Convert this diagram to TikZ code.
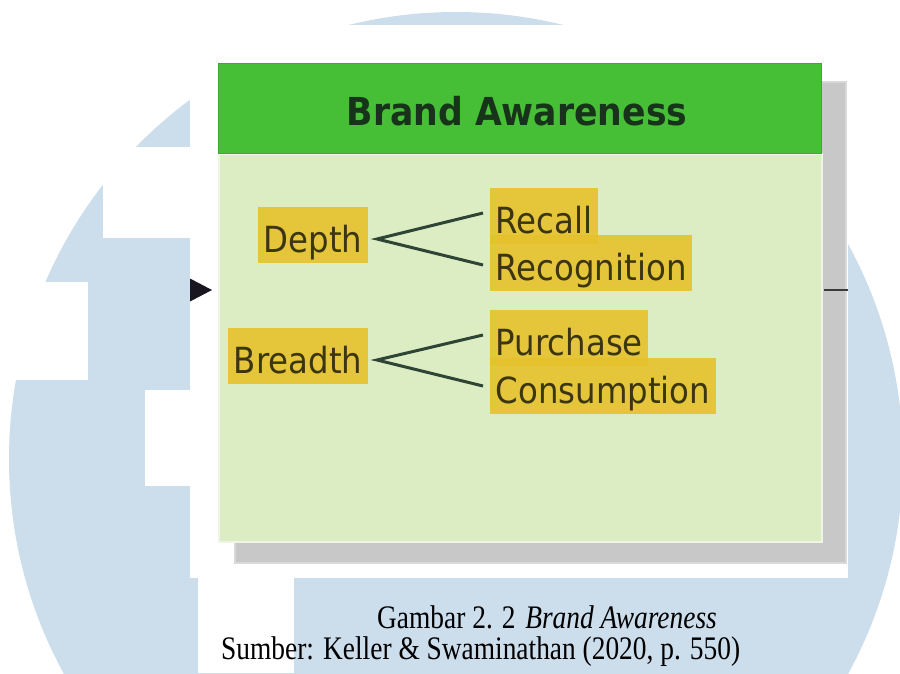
\documentclass[tikz,border=0pt]{standalone}
\usepackage{fontspec}
\usepackage{graphicx}
\setmainfont{Liberation Serif}
\newfontfamily\diafont[FakeStretch=0.9]{DejaVu Sans}

\definecolor{wmblue}{HTML}{CCDDEC}
\definecolor{shadowgray}{HTML}{C8C8C8}
\definecolor{bodygreen}{HTML}{DCEDC4}
\definecolor{bodyrim}{HTML}{EEF5E4}
\definecolor{headgreen}{HTML}{46BE35}
\definecolor{headedge}{HTML}{3DAB2F}
\definecolor{titleink}{HTML}{17331A}
\definecolor{hlyellow}{HTML}{E6C12C}
\definecolor{lblink}{HTML}{3B3610}
\definecolor{connink}{HTML}{2E4535}
\definecolor{arrowink}{HTML}{1A1620}
\definecolor{stubink}{HTML}{3A3A3A}

\begin{document}
\begin{tikzpicture}[
  x=1pt, y=-1pt,
  lbl/.style={fill=hlyellow, fill opacity=0.9, text opacity=1, text=lblink,
    font=\diafont\fontsize{36}{40}\selectfont,
    inner xsep=5.5pt, inner ysep=5pt, text height=40pt, text depth=6pt},
  conn/.style={draw=connink, line width=3pt},
  headtitle/.style={text=titleink, inner sep=0pt,
    font=\diafont\bfseries\fontsize{38.5}{44}\selectfont},
  captxt/.style={anchor=base west, inner sep=0pt, text=black}
]
\useasboundingbox (0,0) rectangle (900,673);
\clip (0,0) rectangle (900,673);
\fill[white] (0,0) rectangle (900,673);

% watermark disc with its white cut-outs
\fill[wmblue] (456,459) circle[radius=447pt];
\fill[white] (103,147) rectangle (300,238);
\fill[white] (0,282) rectangle (88,380);
\fill[white] (145,390) rectangle (300,486);
\fill[white] (198,500) rectangle (294,673);

% white sheet behind the diagram
\fill[white] (190,25) rectangle (848,578);

% drop shadow of the card
\fill[shadowgray, draw=shadowgray!70!white, line width=2pt] (235,82) rectangle (846,563);

% card body and header
\node[draw=bodyrim, line width=2pt, fill=bodygreen, inner sep=0pt,
      minimum width=603pt, minimum height=388pt, anchor=north west] (body) at (218,153) {};
\node[draw=headedge, line width=1pt, fill=headgreen, inner sep=0pt,
      minimum width=603pt, minimum height=90pt, anchor=north west] (head) at (218,63) {};
\node[headtitle, anchor=base] (ttl) at (517,125) {Brand Awareness};

% labels
\node[lbl, anchor=east] (depth) at (368,235) {Depth};
\node[lbl, anchor=east] (breadth) at (368,356) {Breadth};
\node[lbl, anchor=west] (recog) at (490,263) {Recognition};
\node[lbl, anchor=west] (recall) at (490,216) {Recall};
\node[lbl, anchor=west] (cons) at (490,386) {Consumption};
\node[lbl, anchor=west] (purch) at (490,338) {Purchase};

% branching connectors
\draw[conn] ([xshift=-7pt,yshift=3pt]recall.west) -- ([xshift=9pt,yshift=-4pt]depth.east)
            -- ([xshift=-7pt,yshift=-2pt]recog.west);
\draw[conn] ([xshift=-7pt,yshift=3pt]purch.west) -- ([xshift=9pt,yshift=-4pt]breadth.east)
            -- ([xshift=-7pt]cons.west);

% incoming arrow head and outgoing line stub
\coordinate (inbase) at (190,290);
\coordinate (intip) at (212,290);
\fill[arrowink] (intip) -- ([yshift=11.5pt]inbase) -- ([yshift=-11.5pt]inbase) -- cycle;
\coordinate (outa) at (824,290);
\coordinate (outb) at (848,290);
\draw[stubink, line width=2.5pt] (outa) -- (outb);

% caption
\node[captxt] (cap1) at (377,628)
  {\scalebox{1}[1.2]{\fontsize{27.4}{30}\selectfont Gambar 2. 2\hspace{0.35em}\textit{Brand Awareness}}};
\node[captxt] (cap2) at (221,659)
  {\scalebox{1}[1.2]{\fontsize{27.4}{30}\selectfont Sumber: Keller \& Swaminathan (2020, p. 550)}};
\end{tikzpicture}
\end{document}
